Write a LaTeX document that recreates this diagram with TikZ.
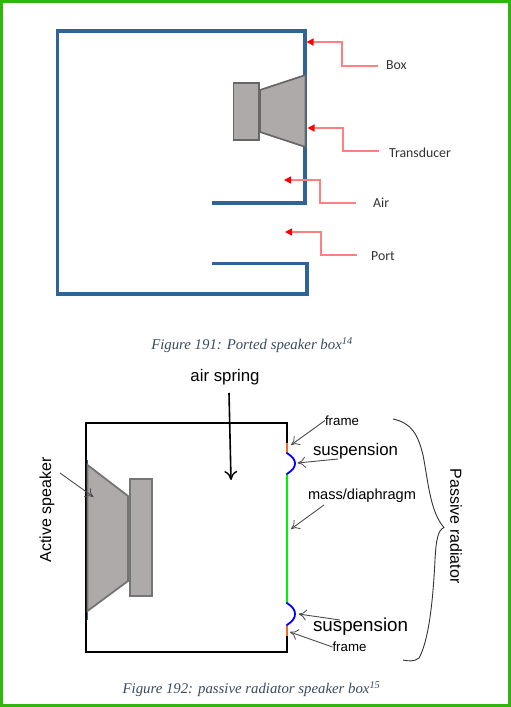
\documentclass[tikz,border=0pt]{standalone}
\usepackage{fontspec}
\setmainfont{Liberation Sans}
\newfontfamily\calfont{Carlito}
\newfontfamily\capfont{Liberation Serif}
\usetikzlibrary{arrows.meta}
\definecolor{frameg}{HTML}{33B50F}
\definecolor{boxblue}{HTML}{2F6499}
\definecolor{conefill}{HTML}{AEAAAA}
\definecolor{coneedge}{HTML}{666666}
\definecolor{capcol}{HTML}{3A4A60}
\definecolor{sorange}{HTML}{F26B21}
\newcommand{\fs}[1]{\fontsize{#1}{#1}\selectfont}
\tikzset{
  x=1pt,y=-1pt,
  lbl/.style={inner sep=0pt,outer sep=0pt,text=#1},
  lbl/.default=black,
  redlbl/.style={inner sep=0pt,text=black!80,font=\calfont\fs{13.8}},
  capt/.style={inner sep=0pt,text=capcol,font=\capfont\itshape\fs{14.8}},
  wall/.style={draw=boxblue,line width=3.3pt,miter limit=10},
  spk/.style={draw=coneedge,fill=conefill,line width=1.7pt,line join=miter},
  redarrow/.style={draw=red!50,line width=1.4pt,-{Triangle[red,length=7pt,width=7pt]}},
  thinarrow/.style={draw=black!70,line width=.9pt,-{To[length=8pt,width=11pt,line width=.8pt]}},
  sus/.style={draw=blue,line width=1.8pt,line cap=round},
  blk/.style={draw=black,line width=1.7pt},
}
\begin{document}
\begin{tikzpicture}
\useasboundingbox (0,0) rectangle (511,707);
\fill[white] (0,0) rectangle (511,707);
\draw[frameg,line width=3pt] (1.5,1.5) -- (509.5,1.5) -- (509.5,705.5) -- (1.5,705.5) -- cycle;

% --- ported box ---
\draw[wall] (212,263.5) -- (307,263.5) -- (307,294) -- (57.5,294) -- (57.5,31) -- (305,31) -- (305,203) -- (212,203);
\path[spk] (260,90) -- (305.5,75) -- (305.5,147) -- (260,132) -- cycle;
\path[spk] (233.5,83) rectangle (259,140);

\node[redlbl,anchor=west] (box) at (386,65.5) {Box};
\node[redlbl,anchor=west] (trans) at (389,152.5) {Transducer};
\node[redlbl,anchor=west] (air) at (373,203) {Air};
\node[redlbl,anchor=west] (port) at (371,256) {Port};
\coordinate (boxs) at (378,66);
\coordinate (boxt) at (306.5,42);
\coordinate (transs) at (379,151);
\coordinate (transt) at (307.5,128);
\coordinate (airs) at (356,203);
\coordinate (airt) at (284,180);
\coordinate (ports) at (357,255);
\coordinate (portt) at (285,232);
\draw[redarrow] (boxs) -- (342,66) -- (342,42) -- (boxt);
\draw[redarrow] (transs) -- (343,151) -- (343,128) -- (transt);
\draw[redarrow] (airs) -- (320,203) -- (320,180) -- (airt);
\draw[redarrow] (ports) -- (321,255) -- (321,232) -- (portt);

\node[capt] (cap1) at (252,345.5) {Figure 191: Ported speaker box\textsuperscript{14}};

% --- passive radiator box ---
\draw[blk,line join=miter] (286.8,443) -- (286.8,423) -- (86,423) -- (86,652) -- (286.8,652) -- (286.8,636);
\draw[draw=sorange,line width=1.8pt] (286.8,443) -- (286.8,453);
\draw[draw=sorange,line width=1.8pt] (286.8,625) -- (286.8,636);
\draw[draw=green!95!black,line width=1.8pt] (286.8,474) -- (286.8,603);
\draw[sus] (286.8,453) .. controls (293,457) and (295,460) .. (295,463.5) .. controls (295,467) and (293,470) .. (286.8,474);
\draw[sus] (286.8,603) .. controls (293,607) and (295,610) .. (295,614) .. controls (295,618) and (293,621) .. (286.8,625);
\draw[boxblue,line width=1.6pt] (87.5,460) -- (87.5,620);
\path[draw=coneedge!90,fill=conefill,line width=1.8pt] (87.5,465) -- (128,496) -- (128,581) -- (87.5,611) -- cycle;
\path[draw=coneedge!90,fill=conefill,line width=2pt] (129.5,478.5) rectangle (151.5,596);

\node[lbl] (airspring) at (225,377) {\fs{16.8}air spring};
\coordinate (as1) at (229,393);
\coordinate (as2) at (231,480);
\draw[black,line width=1.6pt,-{To[length=9pt,width=13pt,line width=1.4pt]}] (as1) -- (as2);

\node[lbl,rotate=90] (active) at (47,510) {\fs{16}Active speaker};
\coordinate (ac1) at (60,473);
\coordinate (ac2) at (93.5,497);
\draw[thinarrow] (ac1) -- (ac2);

\node[lbl,anchor=west] (frame1) at (325,420.5) {\fs{13.3}frame};
\node[lbl,anchor=west] (susp1) at (313,451) {\fs{16.8}suspension};
\node[lbl,anchor=west] (mass) at (308,496) {\fs{14.6}mass/diaphragm};
\node[lbl,anchor=west] (susp2) at (313,626.5) {\fs{18.8}suspension};
\node[lbl,anchor=west] (frame2) at (332.5,647) {\fs{13.3}frame};
\coordinate (f1t) at (291,445);
\coordinate (s1s) at (338,459);
\coordinate (s1t) at (297.5,463);
\coordinate (ms) at (324,505);
\coordinate (mt) at (291,529);
\coordinate (s2s) at (340,620);
\coordinate (s2t) at (298.5,614);
\coordinate (f2t) at (290,632);
\draw[thinarrow] (frame1.west) -- (f1t);
\draw[thinarrow] (s1s) -- (s1t);
\draw[thinarrow] (ms) -- (mt);
\draw[thinarrow] (s2s) -- (s2t);
\draw[thinarrow] (frame2.west) -- (f2t);

\coordinate (brtop) at (393,419);
\coordinate (brtip) at (444,528);
\coordinate (brbot) at (403,660);
\draw[black!80,line width=.9pt] (brtop) .. controls (412,423) and (418,435) .. (423,455)
  .. controls (428,480) and (430,512) .. (444,527.5)
  .. controls (438,530) and (436,540) .. (435,560)
  .. controls (433,600) and (429,640) .. (419,658)
  .. controls (414,662) and (408,661) .. (brbot);
\node[lbl,rotate=-90] (passive) at (456,526) {\fs{16}Passive radiator};

\node[capt] (cap2) at (251.5,689) {Figure 192: passive radiator speaker box\textsuperscript{15}};
\end{tikzpicture}
\end{document}
